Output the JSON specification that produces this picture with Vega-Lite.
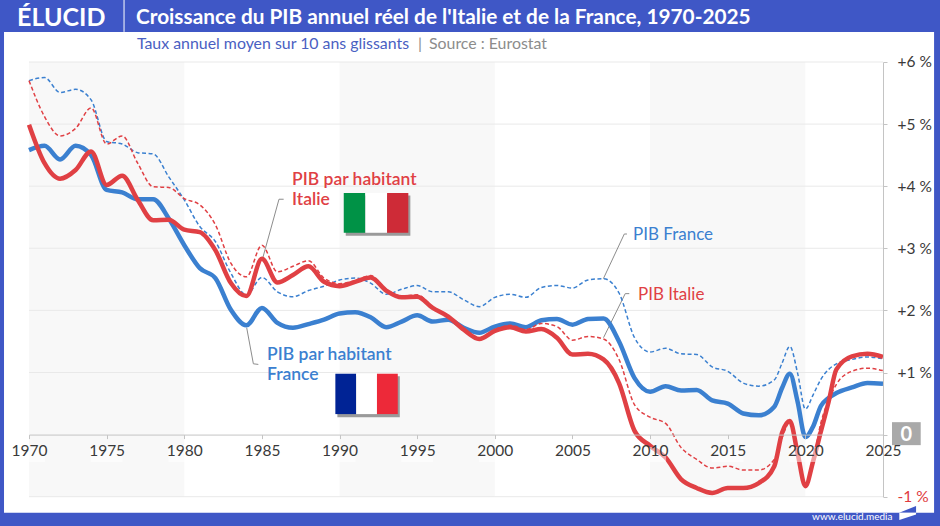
{
  "$schema": "https://vega.github.io/schema/vega-lite/v6.json",
  "width": 854,
  "height": 434.7,
  "autosize": {"type": "none"},
  "padding": {"left": 29, "top": 62, "right": 57, "bottom": 29},
  "background": "#3f57c6",
  "view": {"stroke": null},
  "config": {"font": "Lato", "text": {"font": "Lato"}},
  "datasets": {
    "series": [
      {"annee":1970,"serie":"PIB France","valeur":5.70},{"annee":1971,"serie":"PIB France","valeur":5.75},{"annee":1972,"serie":"PIB France","valeur":5.51},{"annee":1973,"serie":"PIB France","valeur":5.56},{"annee":1974,"serie":"PIB France","valeur":5.39},{"annee":1975,"serie":"PIB France","valeur":4.72},{"annee":1976,"serie":"PIB France","valeur":4.68},{"annee":1977,"serie":"PIB France","valeur":4.54},{"annee":1978,"serie":"PIB France","valeur":4.52},{"annee":1979,"serie":"PIB France","valeur":4.15},{"annee":1980,"serie":"PIB France","valeur":3.78},{"annee":1981,"serie":"PIB France","valeur":3.35},{"annee":1982,"serie":"PIB France","valeur":3.11},{"annee":1983,"serie":"PIB France","valeur":2.60},{"annee":1984,"serie":"PIB France","valeur":2.25},{"annee":1985,"serie":"PIB France","valeur":2.53},{"annee":1986,"serie":"PIB France","valeur":2.30},{"annee":1987,"serie":"PIB France","valeur":2.22},{"annee":1988,"serie":"PIB France","valeur":2.32},{"annee":1989,"serie":"PIB France","valeur":2.39},{"annee":1990,"serie":"PIB France","valeur":2.49},{"annee":1991,"serie":"PIB France","valeur":2.52},{"annee":1992,"serie":"PIB France","valeur":2.44},{"annee":1993,"serie":"PIB France","valeur":2.26},{"annee":1994,"serie":"PIB France","valeur":2.34},{"annee":1995,"serie":"PIB France","valeur":2.40},{"annee":1996,"serie":"PIB France","valeur":2.30},{"annee":1997,"serie":"PIB France","valeur":2.30},{"annee":1998,"serie":"PIB France","valeur":2.17},{"annee":1999,"serie":"PIB France","valeur":2.06},{"annee":2000,"serie":"PIB France","valeur":2.21},{"annee":2001,"serie":"PIB France","valeur":2.26},{"annee":2002,"serie":"PIB France","valeur":2.21},{"annee":2003,"serie":"PIB France","valeur":2.37},{"annee":2004,"serie":"PIB France","valeur":2.40},{"annee":2005,"serie":"PIB France","valeur":2.36},{"annee":2006,"serie":"PIB France","valeur":2.49},{"annee":2007,"serie":"PIB France","valeur":2.51},{"annee":2008,"serie":"PIB France","valeur":2.28},{"annee":2009,"serie":"PIB France","valeur":1.56},{"annee":2010,"serie":"PIB France","valeur":1.33},{"annee":2011,"serie":"PIB France","valeur":1.39},{"annee":2012,"serie":"PIB France","valeur":1.30},{"annee":2013,"serie":"PIB France","valeur":1.29},{"annee":2014,"serie":"PIB France","valeur":1.09},{"annee":2015,"serie":"PIB France","valeur":1.02},{"annee":2016,"serie":"PIB France","valeur":0.83},{"annee":2017,"serie":"PIB France","valeur":0.78},{"annee":2018,"serie":"PIB France","valeur":0.88},{"annee":2018.5,"serie":"PIB France","valeur":1.15},{"annee":2019,"serie":"PIB France","valeur":1.42},{"annee":2019.5,"serie":"PIB France","valeur":0.99},{"annee":2020,"serie":"PIB France","valeur":0.41},{"annee":2020.5,"serie":"PIB France","valeur":0.64},{"annee":2021,"serie":"PIB France","valeur":0.89},{"annee":2022,"serie":"PIB France","valeur":1.14},{"annee":2023,"serie":"PIB France","valeur":1.21},{"annee":2024,"serie":"PIB France","valeur":1.25},{"annee":2025,"serie":"PIB France","valeur":1.22},

      {"annee":1970,"serie":"PIB Italie","valeur":5.70},{"annee":1971,"serie":"PIB Italie","valeur":5.12},{"annee":1972,"serie":"PIB Italie","valeur":4.81},{"annee":1973,"serie":"PIB Italie","valeur":4.93},{"annee":1974,"serie":"PIB Italie","valeur":5.26},{"annee":1975,"serie":"PIB Italie","valeur":4.68},{"annee":1976,"serie":"PIB Italie","valeur":4.81},{"annee":1977,"serie":"PIB Italie","valeur":4.37},{"annee":1978,"serie":"PIB Italie","valeur":3.99},{"annee":1979,"serie":"PIB Italie","valeur":3.98},{"annee":1980,"serie":"PIB Italie","valeur":3.80},{"annee":1981,"serie":"PIB Italie","valeur":3.70},{"annee":1982,"serie":"PIB Italie","valeur":3.38},{"annee":1983,"serie":"PIB Italie","valeur":2.76},{"annee":1984,"serie":"PIB Italie","valeur":2.54},{"annee":1985,"serie":"PIB Italie","valeur":3.05},{"annee":1986,"serie":"PIB Italie","valeur":2.62},{"annee":1987,"serie":"PIB Italie","valeur":2.71},{"annee":1988,"serie":"PIB Italie","valeur":2.80},{"annee":1989,"serie":"PIB Italie","valeur":2.52},{"annee":1990,"serie":"PIB Italie","valeur":2.43},{"annee":1991,"serie":"PIB Italie","valeur":2.48},{"annee":1992,"serie":"PIB Italie","valeur":2.56},{"annee":1993,"serie":"PIB Italie","valeur":2.34},{"annee":1994,"serie":"PIB Italie","valeur":2.23},{"annee":1995,"serie":"PIB Italie","valeur":2.25},{"annee":1996,"serie":"PIB Italie","valeur":2.06},{"annee":1997,"serie":"PIB Italie","valeur":1.90},{"annee":1998,"serie":"PIB Italie","valeur":1.71},{"annee":1999,"serie":"PIB Italie","valeur":1.56},{"annee":2000,"serie":"PIB Italie","valeur":1.69},{"annee":2001,"serie":"PIB Italie","valeur":1.76},{"annee":2002,"serie":"PIB Italie","valeur":1.69},{"annee":2003,"serie":"PIB Italie","valeur":1.79},{"annee":2004,"serie":"PIB Italie","valeur":1.74},{"annee":2005,"serie":"PIB Italie","valeur":1.52},{"annee":2006,"serie":"PIB Italie","valeur":1.58},{"annee":2007,"serie":"PIB Italie","valeur":1.54},{"annee":2008,"serie":"PIB Italie","valeur":1.21},{"annee":2009,"serie":"PIB Italie","valeur":0.48},{"annee":2010,"serie":"PIB Italie","valeur":0.28},{"annee":2011,"serie":"PIB Italie","valeur":0.18},{"annee":2012,"serie":"PIB Italie","valeur":-0.21},{"annee":2013,"serie":"PIB Italie","valeur":-0.40},{"annee":2014,"serie":"PIB Italie","valeur":-0.54},{"annee":2015,"serie":"PIB Italie","valeur":-0.51},{"annee":2016,"serie":"PIB Italie","valeur":-0.57},{"annee":2017,"serie":"PIB Italie","valeur":-0.57},{"annee":2018,"serie":"PIB Italie","valeur":-0.40},{"annee":2018.5,"serie":"PIB Italie","valeur":-0.05},{"annee":2019,"serie":"PIB Italie","valeur":0.20},{"annee":2019.5,"serie":"PIB Italie","valeur":-0.30},{"annee":2020,"serie":"PIB Italie","valeur":-0.83},{"annee":2020.5,"serie":"PIB Italie","valeur":-0.43},{"annee":2021,"serie":"PIB Italie","valeur":0.19},{"annee":2021.5,"serie":"PIB Italie","valeur":0.55},{"annee":2022,"serie":"PIB Italie","valeur":0.81},{"annee":2023,"serie":"PIB Italie","valeur":1.02},{"annee":2024,"serie":"PIB Italie","valeur":1.07},{"annee":2025,"serie":"PIB Italie","valeur":1.03},

      {"annee":1970,"serie":"PIB par habitant France","valeur":4.58},{"annee":1971,"serie":"PIB par habitant France","valeur":4.65},{"annee":1972,"serie":"PIB par habitant France","valeur":4.43},{"annee":1973,"serie":"PIB par habitant France","valeur":4.65},{"annee":1974,"serie":"PIB par habitant France","valeur":4.50},{"annee":1975,"serie":"PIB par habitant France","valeur":3.94},{"annee":1976,"serie":"PIB par habitant France","valeur":3.90},{"annee":1977,"serie":"PIB par habitant France","valeur":3.79},{"annee":1978,"serie":"PIB par habitant France","valeur":3.79},{"annee":1979,"serie":"PIB par habitant France","valeur":3.48},{"annee":1980,"serie":"PIB par habitant France","valeur":3.05},{"annee":1981,"serie":"PIB par habitant France","valeur":2.68},{"annee":1982,"serie":"PIB par habitant France","valeur":2.52},{"annee":1983,"serie":"PIB par habitant France","valeur":2.01},{"annee":1984,"serie":"PIB par habitant France","valeur":1.76},{"annee":1985,"serie":"PIB par habitant France","valeur":2.04},{"annee":1986,"serie":"PIB par habitant France","valeur":1.80},{"annee":1987,"serie":"PIB par habitant France","valeur":1.72},{"annee":1988,"serie":"PIB par habitant France","valeur":1.78},{"annee":1989,"serie":"PIB par habitant France","valeur":1.85},{"annee":1990,"serie":"PIB par habitant France","valeur":1.95},{"annee":1991,"serie":"PIB par habitant France","valeur":1.97},{"annee":1992,"serie":"PIB par habitant France","valeur":1.89},{"annee":1993,"serie":"PIB par habitant France","valeur":1.73},{"annee":1994,"serie":"PIB par habitant France","valeur":1.82},{"annee":1995,"serie":"PIB par habitant France","valeur":1.92},{"annee":1996,"serie":"PIB par habitant France","valeur":1.82},{"annee":1997,"serie":"PIB par habitant France","valeur":1.85},{"annee":1998,"serie":"PIB par habitant France","valeur":1.72},{"annee":1999,"serie":"PIB par habitant France","valeur":1.64},{"annee":2000,"serie":"PIB par habitant France","valeur":1.74},{"annee":2001,"serie":"PIB par habitant France","valeur":1.79},{"annee":2002,"serie":"PIB par habitant France","valeur":1.73},{"annee":2003,"serie":"PIB par habitant France","valeur":1.84},{"annee":2004,"serie":"PIB par habitant France","valeur":1.86},{"annee":2005,"serie":"PIB par habitant France","valeur":1.77},{"annee":2006,"serie":"PIB par habitant France","valeur":1.86},{"annee":2007,"serie":"PIB par habitant France","valeur":1.87},{"annee":2008,"serie":"PIB par habitant France","valeur":1.50},{"annee":2009,"serie":"PIB par habitant France","valeur":0.91},{"annee":2010,"serie":"PIB par habitant France","valeur":0.69},{"annee":2011,"serie":"PIB par habitant France","valeur":0.78},{"annee":2012,"serie":"PIB par habitant France","valeur":0.71},{"annee":2013,"serie":"PIB par habitant France","valeur":0.72},{"annee":2014,"serie":"PIB par habitant France","valeur":0.55},{"annee":2015,"serie":"PIB par habitant France","valeur":0.50},{"annee":2016,"serie":"PIB par habitant France","valeur":0.34},{"annee":2017,"serie":"PIB par habitant France","valeur":0.31},{"annee":2018,"serie":"PIB par habitant France","valeur":0.45},{"annee":2018.5,"serie":"PIB par habitant France","valeur":0.75},{"annee":2019,"serie":"PIB par habitant France","valeur":0.98},{"annee":2019.5,"serie":"PIB par habitant France","valeur":0.53},{"annee":2020,"serie":"PIB par habitant France","valeur":-0.04},{"annee":2020.5,"serie":"PIB par habitant France","valeur":0.13},{"annee":2021,"serie":"PIB par habitant France","valeur":0.46},{"annee":2021.5,"serie":"PIB par habitant France","valeur":0.59},{"annee":2022,"serie":"PIB par habitant France","valeur":0.67},{"annee":2023,"serie":"PIB par habitant France","valeur":0.76},{"annee":2024,"serie":"PIB par habitant France","valeur":0.83},{"annee":2025,"serie":"PIB par habitant France","valeur":0.82},

      {"annee":1970,"serie":"PIB par habitant Italie","valeur":4.99},{"annee":1971,"serie":"PIB par habitant Italie","valeur":4.37},{"annee":1972,"serie":"PIB par habitant Italie","valeur":4.12},{"annee":1973,"serie":"PIB par habitant Italie","valeur":4.26},{"annee":1974,"serie":"PIB par habitant Italie","valeur":4.56},{"annee":1975,"serie":"PIB par habitant Italie","valeur":4.02},{"annee":1976,"serie":"PIB par habitant Italie","valeur":4.17},{"annee":1977,"serie":"PIB par habitant Italie","valeur":3.78},{"annee":1978,"serie":"PIB par habitant Italie","valeur":3.45},{"annee":1979,"serie":"PIB par habitant Italie","valeur":3.46},{"annee":1980,"serie":"PIB par habitant Italie","valeur":3.30},{"annee":1981,"serie":"PIB par habitant Italie","valeur":3.26},{"annee":1982,"serie":"PIB par habitant Italie","valeur":2.97},{"annee":1983,"serie":"PIB par habitant Italie","valeur":2.44},{"annee":1984,"serie":"PIB par habitant Italie","valeur":2.23},{"annee":1985,"serie":"PIB par habitant Italie","valeur":2.83},{"annee":1986,"serie":"PIB par habitant Italie","valeur":2.45},{"annee":1987,"serie":"PIB par habitant Italie","valeur":2.57},{"annee":1988,"serie":"PIB par habitant Italie","valeur":2.71},{"annee":1989,"serie":"PIB par habitant Italie","valeur":2.46},{"annee":1990,"serie":"PIB par habitant Italie","valeur":2.39},{"annee":1991,"serie":"PIB par habitant Italie","valeur":2.46},{"annee":1992,"serie":"PIB par habitant Italie","valeur":2.53},{"annee":1993,"serie":"PIB par habitant Italie","valeur":2.32},{"annee":1994,"serie":"PIB par habitant Italie","valeur":2.21},{"annee":1995,"serie":"PIB par habitant Italie","valeur":2.22},{"annee":1996,"serie":"PIB par habitant Italie","valeur":2.04},{"annee":1997,"serie":"PIB par habitant Italie","valeur":1.90},{"annee":1998,"serie":"PIB par habitant Italie","valeur":1.69},{"annee":1999,"serie":"PIB par habitant Italie","valeur":1.54},{"annee":2000,"serie":"PIB par habitant Italie","valeur":1.67},{"annee":2001,"serie":"PIB par habitant Italie","valeur":1.73},{"annee":2002,"serie":"PIB par habitant Italie","valeur":1.66},{"annee":2003,"serie":"PIB par habitant Italie","valeur":1.70},{"annee":2004,"serie":"PIB par habitant Italie","valeur":1.56},{"annee":2005,"serie":"PIB par habitant Italie","valeur":1.29},{"annee":2006,"serie":"PIB par habitant Italie","valeur":1.30},{"annee":2007,"serie":"PIB par habitant Italie","valeur":1.21},{"annee":2008,"serie":"PIB par habitant Italie","valeur":0.83},{"annee":2009,"serie":"PIB par habitant Italie","valeur":0.06},{"annee":2010,"serie":"PIB par habitant Italie","valeur":-0.18},{"annee":2011,"serie":"PIB par habitant Italie","valeur":-0.37},{"annee":2012,"serie":"PIB par habitant Italie","valeur":-0.72},{"annee":2013,"serie":"PIB par habitant Italie","valeur":-0.86},{"annee":2014,"serie":"PIB par habitant Italie","valeur":-0.94},{"annee":2015,"serie":"PIB par habitant Italie","valeur":-0.86},{"annee":2016,"serie":"PIB par habitant Italie","valeur":-0.86},{"annee":2017,"serie":"PIB par habitant Italie","valeur":-0.78},{"annee":2018,"serie":"PIB par habitant Italie","valeur":-0.51},{"annee":2018.5,"serie":"PIB par habitant Italie","valeur":0.03},{"annee":2019,"serie":"PIB par habitant Italie","valeur":0.22},{"annee":2019.5,"serie":"PIB par habitant Italie","valeur":-0.30},{"annee":2020,"serie":"PIB par habitant Italie","valeur":-0.83},{"annee":2020.5,"serie":"PIB par habitant Italie","valeur":-0.43},{"annee":2021,"serie":"PIB par habitant Italie","valeur":0.05},{"annee":2021.5,"serie":"PIB par habitant Italie","valeur":0.53},{"annee":2022,"serie":"PIB par habitant Italie","valeur":1.05},{"annee":2023,"serie":"PIB par habitant Italie","valeur":1.26},{"annee":2024,"serie":"PIB par habitant Italie","valeur":1.30},{"annee":2025,"serie":"PIB par habitant Italie","valeur":1.25}
    ],
    "filets": [
      {"filet":"italie","annee":1985.05,"valeur":2.84},{"filet":"italie","annee":1986.1,"valeur":3.79},{"filet":"italie","annee":1986.4,"valeur":3.79},
      {"filet":"france","annee":1984.02,"valeur":1.72},{"filet":"france","annee":1984.45,"valeur":1.14},{"filet":"france","annee":1984.77,"valeur":1.13},
      {"filet":"pib france","annee":2006.99,"valeur":2.51},{"filet":"pib france","annee":2008.34,"valeur":3.23},{"filet":"pib france","annee":2008.51,"valeur":3.23},
      {"filet":"pib italie","annee":2007.0,"valeur":1.56},{"filet":"pib italie","annee":2008.4,"valeur":2.27},{"filet":"pib italie","annee":2008.66,"valeur":2.27}
    ],
    "drapeaux": [
      {"bande":"ombre","annee":1990.4,"annee2":1994.56,"valeur":3.85,"valeur2":3.2},
      {"bande":"ombre","annee":1989.86,"annee2":1993.88,"valeur":0.94,"valeur2":0.28},
      {"bande":"vert","annee":1990.27,"annee2":1991.66,"valeur":3.89,"valeur2":3.25},
      {"bande":"blanc","annee":1991.66,"annee2":1993.06,"valeur":3.89,"valeur2":3.25},
      {"bande":"rouge it","annee":1993.06,"annee2":1994.43,"valeur":3.89,"valeur2":3.25},
      {"bande":"bleu","annee":1989.73,"annee2":1991.07,"valeur":0.98,"valeur2":0.33},
      {"bande":"blanc","annee":1991.07,"annee2":1992.41,"valeur":0.98,"valeur2":0.33},
      {"bande":"rouge fr","annee":1992.41,"annee2":1993.75,"valeur":0.98,"valeur2":0.33}
    ]
  },
  "data": {"name": "series"},
  "encoding": {
    "x": {
      "field": "annee",
      "type": "quantitative",
      "title": null,
      "scale": {"domain": [1970, 2025], "nice": false, "zero": false},
      "axis": {
        "orient": "bottom",
        "offset": -62.1,
        "values": [1970, 1975, 1980, 1985, 1990, 1995, 2000, 2005, 2010, 2015, 2020, 2025],
        "format": "d",
        "grid": false,
        "zindex": 1,
        "domainColor": "#c4c4c4",
        "tickColor": "#c4c4c4",
        "tickSize": 4,
        "labelFontSize": 15.5,
        "labelColor": "#3a3a3a",
        "labelPadding": 5,
        "labelFlush": false,
        "labelOverlap": false
      }
    },
    "y": {
      "field": "valeur",
      "type": "quantitative",
      "title": null,
      "scale": {"domain": [-1, 6], "nice": false, "zero": false},
      "axis": {
        "orient": "right",
        "values": [-1, 0, 1, 2, 3, 4, 5, 6],
        "labelExpr": "datum.value == 0 ? '' : (datum.value > 0 ? '+' : '') + datum.value + ' %'",
        "grid": false,
        "zindex": 1,
        "domainColor": "#c4c4c4",
        "tickColor": "#c4c4c4",
        "tickSize": 4,
        "labelFontSize": 15.5,
        "labelColor": {"condition": {"test": "datum.value < 0", "value": "#e0393e"}, "value": "#3a3a3a"},
        "labelPadding": 10,
        "labelFlush": false,
        "labelOverlap": false
      }
    }
  },
  "layer": [
    {
      "data": {"values": [{"annee": 1968.39, "annee2": 2028.29, "valeur": 6.485, "valeur2": -1.26}]},
      "mark": {"type": "rect", "color": "#ffffff"},
      "encoding": {"x2": {"field": "annee2"}, "y2": {"field": "valeur2"}}
    },
    {
      "data": {"values": [
        {"annee": 1970, "annee2": 1980, "valeur": 6, "valeur2": -1},
        {"annee": 1990, "annee2": 2000, "valeur": 6, "valeur2": -1},
        {"annee": 2010, "annee2": 2020, "valeur": 6, "valeur2": -1}
      ]},
      "mark": {"type": "rect", "color": "#f8f8f8"},
      "encoding": {"x2": {"field": "annee2"}, "y2": {"field": "valeur2"}}
    },
    {
      "data": {"values": [
        {"annee": 1970, "annee2": 2025, "valeur": -1},
        {"annee": 1970, "annee2": 2025, "valeur": 1},
        {"annee": 1970, "annee2": 2025, "valeur": 2},
        {"annee": 1970, "annee2": 2025, "valeur": 3},
        {"annee": 1970, "annee2": 2025, "valeur": 4},
        {"annee": 1970, "annee2": 2025, "valeur": 5},
        {"annee": 1970, "annee2": 2025, "valeur": 6}
      ]},
      "mark": {"type": "rule", "color": "#e9e9e9", "strokeWidth": 1},
      "encoding": {"x2": {"field": "annee2"}}
    },
    {
      "data": {"name": "filets"},
      "mark": {"type": "line", "color": "#8c8c8c", "strokeWidth": 1},
      "encoding": {"detail": {"field": "filet"}}
    },
    {
      "transform": [{"filter": "datum.serie == 'PIB France'"}],
      "mark": {"type": "line", "interpolate": "monotone", "color": "#3b80d0", "strokeWidth": 1.5, "strokeDash": [4, 2.5]}
    },
    {
      "transform": [{"filter": "datum.serie == 'PIB par habitant France'"}],
      "mark": {"type": "line", "interpolate": "monotone", "color": "#3b80d0", "strokeWidth": 4.5}
    },
    {
      "transform": [{"filter": "datum.serie == 'PIB par habitant Italie'"}],
      "mark": {"type": "line", "interpolate": "monotone", "color": "#e04044", "strokeWidth": 4.5}
    },
    {
      "transform": [{"filter": "datum.serie == 'PIB Italie'"}],
      "mark": {"type": "line", "interpolate": "monotone", "color": "#e04044", "strokeWidth": 1.5, "strokeDash": [4, 2.5]}
    },
    {
      "data": {"values": [
        {"annee": 1968.97, "annee2": 1971.03, "valeur": -0.2, "valeur2": -0.44},
        {"annee": 1973.97, "annee2": 1976.03, "valeur": -0.2, "valeur2": -0.44},
        {"annee": 1978.97, "annee2": 1981.03, "valeur": -0.2, "valeur2": -0.44},
        {"annee": 1983.97, "annee2": 1986.03, "valeur": -0.2, "valeur2": -0.44},
        {"annee": 1988.97, "annee2": 1991.03, "valeur": -0.2, "valeur2": -0.44},
        {"annee": 1993.97, "annee2": 1996.03, "valeur": -0.2, "valeur2": -0.44},
        {"annee": 1998.97, "annee2": 2001.03, "valeur": -0.2, "valeur2": -0.44},
        {"annee": 2003.97, "annee2": 2006.03, "valeur": -0.2, "valeur2": -0.44},
        {"annee": 2008.97, "annee2": 2011.03, "valeur": -0.2, "valeur2": -0.44},
        {"annee": 2013.97, "annee2": 2016.03, "valeur": -0.2, "valeur2": -0.44},
        {"annee": 2018.97, "annee2": 2021.03, "valeur": -0.2, "valeur2": -0.44},
        {"annee": 2023.97, "annee2": 2026.03, "valeur": -0.2, "valeur2": -0.44}
      ]},
      "mark": {"type": "rect", "color": "#ffffff", "opacity": 0.5},
      "encoding": {"x2": {"field": "annee2"}, "y2": {"field": "valeur2"}}
    },
    {
      "data": {"name": "drapeaux"},
      "mark": {"type": "rect"},
      "encoding": {
        "x2": {"field": "annee2"},
        "y2": {"field": "valeur2"},
        "color": {
          "field": "bande",
          "legend": null,
          "scale": {
            "domain": ["ombre", "vert", "blanc", "rouge it", "bleu", "rouge fr"],
            "range": ["#9a9a9a", "#009246", "#ffffff", "#ce2b37", "#002395", "#ed2939"]
          }
        }
      }
    },
    {
      "data": {"values": [
        {"texte": "PIB par habitant", "annee": 1986.94, "valeur": 4.10},
        {"texte": "Italie", "annee": 1986.94, "valeur": 3.78}
      ]},
      "mark": {"type": "text", "color": "#e04044", "align": "left", "baseline": "middle", "fontSize": 17.5, "fontWeight": 600},
      "encoding": {"text": {"field": "texte"}}
    },
    {
      "data": {"values": [
        {"texte": "PIB par habitant", "annee": 1985.33, "valeur": 1.28},
        {"texte": "France", "annee": 1985.33, "valeur": 0.96}
      ]},
      "mark": {"type": "text", "color": "#3b80d0", "align": "left", "baseline": "middle", "fontSize": 17.5, "fontWeight": 600},
      "encoding": {"text": {"field": "texte"}}
    },
    {
      "data": {"values": [{"texte": "PIB France", "annee": 2008.9, "valeur": 3.22}]},
      "mark": {"type": "text", "color": "#3b80d0", "align": "left", "baseline": "middle", "fontSize": 17},
      "encoding": {"text": {"field": "texte"}}
    },
    {
      "data": {"values": [{"texte": "PIB Italie", "annee": 2009.22, "valeur": 2.25}]},
      "mark": {"type": "text", "color": "#e04044", "align": "left", "baseline": "middle", "fontSize": 17},
      "encoding": {"text": {"field": "texte"}}
    },
    {
      "data": {"values": [{"annee": 2025.58, "annee2": 2027.43, "valeur": 0.2, "valeur2": -0.17}]},
      "mark": {"type": "rect", "color": "#a9a9a9"},
      "encoding": {"x2": {"field": "annee2"}, "y2": {"field": "valeur2"}}
    },
    {
      "data": {"values": [{"annee": 2026.5, "valeur": 0, "texte": "0"}]},
      "mark": {"type": "text", "color": "#ffffff", "fontSize": 20, "fontWeight": "bold", "baseline": "middle"},
      "encoding": {"text": {"field": "texte"}}
    },
    {
      "data": {"values": [{"annee": 1969.23, "valeur": 6.71, "texte": "ÉLUCID"}]},
      "mark": {"type": "text", "color": "#ffffff", "fontSize": 25, "fontWeight": "bold", "align": "left", "baseline": "middle"},
      "encoding": {"text": {"field": "texte"}}
    },
    {
      "data": {"values": [{"annee": 1976.12, "valeur": 7, "valeur2": 6.485}]},
      "mark": {"type": "rule", "color": "#ffffff", "strokeWidth": 1},
      "encoding": {"y2": {"field": "valeur2"}}
    },
    {
      "data": {"values": [{"annee": 1976.89, "valeur": 6.71, "texte": "Croissance du PIB annuel réel de l'Italie et de la France, 1970-2025"}]},
      "mark": {"type": "text", "color": "#ffffff", "fontSize": 20.8, "fontWeight": "bold", "align": "left", "baseline": "middle"},
      "encoding": {"text": {"field": "texte"}}
    },
    {
      "data": {"values": [{"annee": 1976.95, "valeur": 6.29, "texte": "Taux annuel moyen sur 10 ans glissants"}]},
      "mark": {"type": "text", "color": "#4a60c2", "fontSize": 15.9, "align": "left", "baseline": "middle"},
      "encoding": {"text": {"field": "texte"}}
    },
    {
      "data": {"values": [
        {"annee": 1995.05, "valeur": 6.29, "texte": "|"},
        {"annee": 1995.76, "valeur": 6.29, "texte": "Source : Eurostat"}
      ]},
      "mark": {"type": "text", "color": "#8c8c8c", "fontSize": 15.9, "align": "left", "baseline": "middle"},
      "encoding": {"text": {"field": "texte"}}
    },
    {
      "data": {"values": [{"annee": 2020.43, "valeur": -1.335, "texte": "www.elucid.media"}]},
      "mark": {"type": "text", "color": "#ffffff", "fontSize": 10, "align": "left", "baseline": "middle"},
      "encoding": {"text": {"field": "texte"}}
    },
    {
      "data": {"values": [
        {"annee": 2026.05, "valeur": -1.26, "valeur2": -1.26},
        {"annee": 2027.13, "valeur": -1.148, "valeur2": -1.26}
      ]},
      "mark": {"type": "area", "color": "#3f57c6"},
      "encoding": {"y2": {"field": "valeur2"}}
    },
    {
      "data": {"values": [
        {"annee": 2026.05, "valeur": -1.26, "valeur2": -1.374},
        {"annee": 2027.13, "valeur": -1.26, "valeur2": -1.288}
      ]},
      "mark": {"type": "area", "color": "#ffffff"},
      "encoding": {"y2": {"field": "valeur2"}}
    }
  ]
}
